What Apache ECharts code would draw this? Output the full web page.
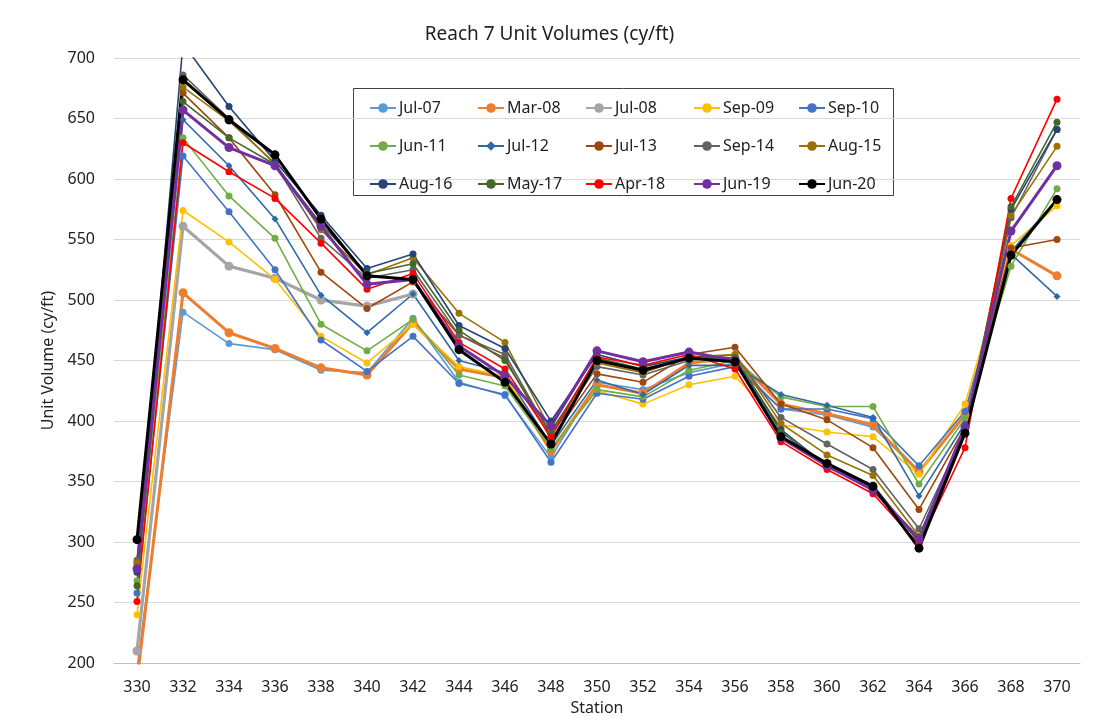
<!DOCTYPE html>
<html><head><meta charset="utf-8">
<script src="https://cdn.jsdelivr.net/npm/echarts@6/dist/echarts.min.js"></script>
<style>html,body{margin:0;padding:0;background:#fff;overflow:hidden}#c{width:1099px;height:721px}</style>
</head><body><div id="c"></div>
<script>
const stations = ['330','332','334','336','338','340','342','344','346','348','350','352','354','356','358','360','362','364','366','368','370'];
const yTicks = [200,250,300,350,400,450,500,550,600,650,700];
const seriesNames = ['Jul-07','Mar-08','Jul-08','Sep-09','Sep-10','Jun-11','Jul-12','Jul-13','Sep-14','Aug-15','Aug-16','May-17','Apr-18','Jun-19','Jun-20'];
const jul07 = [195,490,464,459,442,440,485,432,421,370,432,426,440,448,410,405,395,358,405,540,583];
const mar08 = [185,506,473,460,444,438,481,443,436,375,430,423,448,452,414,406,397,358,405,542,520];
const jul08 = [210,561,528,518,500,495,505,null,null,null,null,null,null,null,null,null,null,null,null,null,null];
const sep09 = [240,574,548,517,470,448,480,445,437,378,425,414,430,437,397,391,387,356,414,545,578];
const sep10 = [258,619,573,525,467,441,470,431,422,366,423,418,437,445,410,410,402,363,408,540,583];
const jun11 = [268,634,586,551,480,458,484,438,429,377,426,420,442,450,420,412,412,348,402,528,592];
const jul12 = [278,649,611,567,504,473,505,450,440,380,434,422,446,446,422,413,403,338,398,538,503];
const jul13 = [282,671,634,587,523,493,515,471,452,385,439,432,455,461,414,401,378,327,395,543,550];
const sep14 = [285,686,650,612,551,518,525,471,455,388,445,438,450,455,403,381,360,311,392,568,641];
const aug15 = [283,676,648,613,558,521,535,489,465,392,448,440,453,455,398,372,355,305,390,570,627];
const aug16 = [275,712,660,615,570,526,538,479,460,400,455,445,453,452,393,363,347,300,392,575,641];
const may17 = [264,664,634,612,563,522,530,475,450,390,452,443,452,452,391,362,345,300,392,577,647];
const apr18 = [251,630,606,584,547,509,522,465,443,387,453,446,455,443,383,360,340,298,378,584,666];
const jun19 = [278,657,626,611,561,513,517,462,437,396,458,449,457,450,386,363,343,303,395,557,611];
const jun20 = [302,682,649,620,567,520,517,459,432,381,450,442,452,449,387,365,346,295,390,537,583];

const allData = [jul07,mar08,jul08,sep09,sep10,jun11,jul12,jul13,sep14,aug15,aug16,may17,apr18,jun19,jun20];
const colors = ['#5B9BD5','#ED7D31','#A5A5A5','#FFC000','#4472C4','#70AD47','#2F6AA6','#9E480E','#636363','#997300','#264478','#43682B','#FF0000','#7030A0','#000000'];
const thick = {'Mar-08':3,'Jul-08':3.2,'Jun-19':3,'Jun-20':3};
const FONT = 'Noto Sans';

const series = seriesNames.map((n,i)=>({
  name:n, type:'line', data:allData[i],
  symbol: n==='Jul-12' ? 'diamond' : 'circle',
  symbolSize: thick[n] ? 9 : 7,
  showSymbol:true,
  lineStyle:{width: thick[n]||1.6, color:colors[i]},
  itemStyle:{color:colors[i]},
  clip:true, animation:false, connectNulls:false
}));

const colLeft = [364,472,580,688,793];
const legends = colLeft.map((l,c)=>({
  orient:'vertical', left:l, top:93,
  data:[seriesNames[c],seriesNames[c+5],seriesNames[c+10]],
  itemWidth:26, itemHeight:12, itemGap:18,
  textStyle:{fontFamily:FONT,fontSize:16,color:'#222',lineHeight:20,padding:[0,0,0,-2]},
  selectedMode:false
}));

const chart = echarts.init(document.getElementById('c'));
chart.setOption({
  animation:false,
  backgroundColor:'#fff',
  color:colors,
  title:{text:'Reach 7 Unit Volumes (cy/ft)',left:'center',top:20,
    textStyle:{fontFamily:FONT,fontSize:19,fontWeight:'normal',color:'#222'}},
  legend:legends,
  grid:{left:114,right:19,top:58,bottom:52},
  xAxis:{type:'category',data:stations,boundaryGap:true,
    name:'Station',nameLocation:'middle',nameGap:34,
    nameTextStyle:{fontFamily:FONT,fontSize:16,color:'#222'},
    axisLine:{lineStyle:{color:'#bfbfbf'}},axisTick:{show:false},
    axisLabel:{fontFamily:FONT,fontSize:16,color:'#222',margin:16}},
  yAxis:{type:'value',min:yTicks[0],max:yTicks[yTicks.length-1],interval:50,
    name:'Unit Volume (cy/ft)',nameLocation:'middle',nameGap:58,
    nameTextStyle:{fontFamily:FONT,fontSize:16,color:'#222'},
    axisLine:{show:false},axisTick:{show:false},
    axisLabel:{fontFamily:FONT,fontSize:16,color:'#222',margin:19},
    splitLine:{lineStyle:{color:'#d9d9d9'}}},
  graphic:[{type:'rect',shape:{x:353.5,y:88.5,width:540,height:107},
    style:{fill:'#fff',stroke:'#404040',lineWidth:1},z:-1,silent:true}],
  series:series
});
</script></body></html>
